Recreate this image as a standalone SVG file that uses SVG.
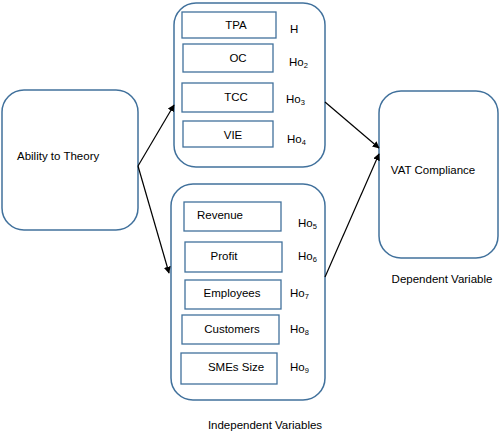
<svg xmlns="http://www.w3.org/2000/svg" width="500" height="435" viewBox="0 0 500 435">
<style>
.cont{fill:#fff;stroke:#41719C;stroke-width:1.5}
.box{fill:#fff;stroke:#41719C;stroke-width:1.3}
.t{font-family:"Liberation Sans",Arial,sans-serif;font-size:11.5px;fill:#000}
.c{text-anchor:middle}
.sub{font-size:7.5px}
.ln{stroke:#000;stroke-width:1.2;fill:none;marker-end:url(#ah)}
</style>
<defs>
<marker id="ah" viewBox="0 0 10 10" refX="9" refY="5" markerWidth="7" markerHeight="7" orient="auto" markerUnits="userSpaceOnUse">
<path d="M0,0 L10,5 L0,10 z" fill="#000"/>
</marker>
</defs>
<rect width="500" height="435" fill="#fff"/>

<g id="ability">
<rect class="cont" x="2" y="90" width="136" height="140" rx="22"/>
<text class="t" x="17" y="160">Ability to Theory</text>
</g>

<g id="top-group">
<rect class="cont" x="174" y="3" width="151" height="164" rx="22"/>
<g id="tpa"><rect class="box" x="182" y="12" width="94" height="26"/><text class="t c" x="236" y="29">TPA</text></g>
<g id="oc"><rect class="box" x="183" y="44" width="90" height="28"/><text class="t c" x="238" y="62">OC</text></g>
<g id="tcc"><rect class="box" x="182" y="83" width="91" height="29"/><text class="t c" x="236" y="101">TCC</text></g>
<g id="vie"><rect class="box" x="183" y="121" width="90" height="26"/><text class="t c" x="233" y="139">VIE</text></g>
<text class="t" x="290" y="33">H</text>
<text class="t" x="289" y="66">Ho<tspan class="sub" dy="2">2</tspan></text>
<text class="t" x="286" y="103">Ho<tspan class="sub" dy="2">3</tspan></text>
<text class="t" x="287" y="143">Ho<tspan class="sub" dy="2">4</tspan></text>
</g>

<g id="bottom-group">
<rect class="cont" x="171" y="184" width="154" height="216" rx="22"/>
<g id="revenue"><rect class="box" x="184" y="202" width="97" height="29"/><text class="t c" x="220" y="219">Revenue</text></g>
<g id="profit"><rect class="box" x="185" y="242" width="97" height="30"/><text class="t c" x="224" y="260">Profit</text></g>
<g id="employees"><rect class="box" x="185" y="280" width="96" height="29"/><text class="t c" x="232" y="297">Employees</text></g>
<g id="customers"><rect class="box" x="182" y="315" width="97" height="29"/><text class="t c" x="232" y="333">Customers</text></g>
<g id="smes"><rect class="box" x="181" y="353" width="96" height="31"/><text class="t c" x="236" y="371">SMEs Size</text></g>
<text class="t" x="298" y="227">Ho<tspan class="sub" dy="2">5</tspan></text>
<text class="t" x="298" y="260">Ho<tspan class="sub" dy="2">6</tspan></text>
<text class="t" x="290" y="297">Ho<tspan class="sub" dy="2">7</tspan></text>
<text class="t" x="290" y="333">Ho<tspan class="sub" dy="2">8</tspan></text>
<text class="t" x="290" y="371">Ho<tspan class="sub" dy="2">9</tspan></text>
</g>

<g id="vat">
<rect class="cont" x="379" y="91" width="119" height="167" rx="22"/>
<text class="t c" x="433" y="174">VAT Compliance</text>
</g>

<text class="t c" x="442" y="283">Dependent Variable</text>
<text class="t c" x="265" y="429">Independent Variables</text>

<g id="connectors">
<path class="ln" d="M138,166 L174,105"/>
<path class="ln" d="M138,166 L169,273"/>
<path class="ln" d="M325,102 L379,148"/>
<path class="ln" d="M325,277 L379,154"/>
</g>
</svg>
